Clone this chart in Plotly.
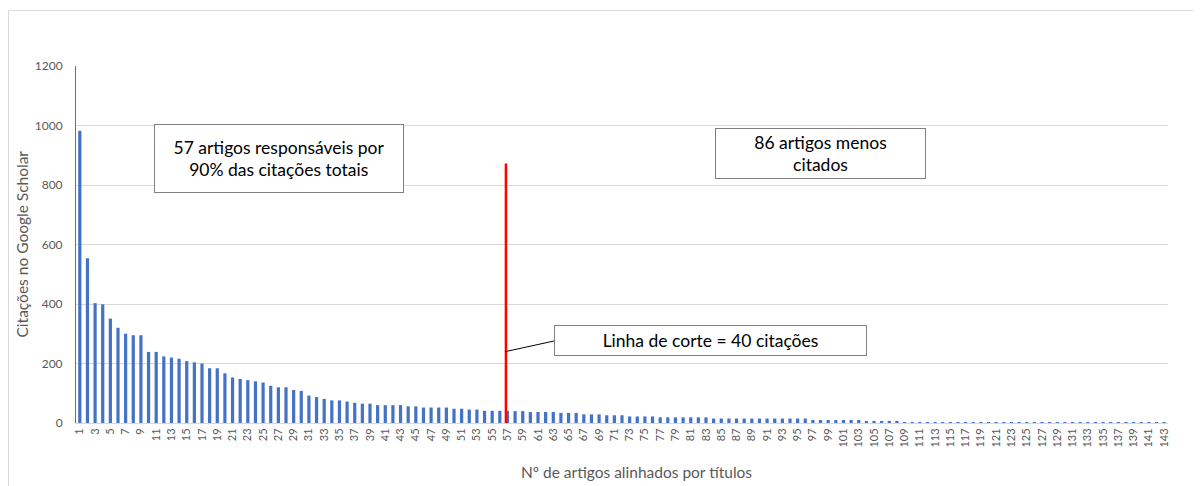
import plotly.graph_objects as go

# ---------------- data ----------------
articles = list(range(1, 144))
citations = [
    982, 554, 403, 399, 351, 320, 300, 295, 295, 239,
    239, 224, 220, 216, 208, 204, 200, 184, 184, 167,
    153, 148, 144, 140, 136, 125, 120, 120, 111, 108,
    92, 87, 81, 76, 76, 72, 68, 65, 65, 60,
    60, 60, 60, 56, 56, 52, 52, 52, 52, 48,
    48, 45, 45, 41, 41, 41, 41, 40, 40, 37,
    37, 37, 37, 34, 34, 34, 29, 29, 29, 26,
    26, 26, 22, 22, 22, 22, 19, 19, 19, 19,
    19, 19, 19, 15, 15, 15, 15, 15, 15, 15,
    15, 15, 15, 15, 15, 15, 10, 10, 10, 10,
    10, 10, 10, 7, 7, 7, 7, 7, 3, 3,
    3, 3, 3, 3, 3, 3, 3, 3, 3, 3,
    3, 3, 3, 3, 3, 3, 3, 3, 3, 3,
    3, 3, 3, 3, 3, 3, 3, 3, 3, 3,
    3, 3, 3,
]
x_tick_vals = list(range(1, 144, 2))
x_tick_text = [str(v) for v in x_tick_vals]
y_tick_vals = [0, 200, 400, 600, 800, 1000, 1200]

cutoff_article = 56.8
cutoff_line_top = 872

title_x = "Nº de artigos alinhados por títulos"
title_y = "Citações no Google Scholar"
box_left_text = "57 artigos responsáveis por<br>90% das citações totais"
box_right_text = "86 artigos menos<br>citados"
box_cut_text = "Linha de corte = 40 citações"

FONT = "Lato, 'Open Sans', sans-serif"
GRAY = "#595959"
BLUE = "#4472C4"

fig = go.Figure()
fig.add_trace(go.Bar(x=articles, y=citations, marker_color=BLUE,
                     marker_line_width=0, width=0.42))

# page has an 8px body margin: figure coordinates = page coordinates - 8
OFF = 8
W, H = 1201 - OFF, 486 - OFF
L, T = 76 - OFF, 66 - OFF
R = W - (1168 - OFF)
B = H - (423 - OFF)
PW, PH = W - L - R, H - T - B


def px(xp):
    return (xp - OFF - L) / PW


def py(yp):
    return (H - B - (yp - OFF)) / PH


fig.update_layout(
    width=W, height=H,
    margin=dict(l=L, r=R, t=T, b=B),
    paper_bgcolor="white", plot_bgcolor="white",
    font=dict(family=FONT, color=GRAY, size=11),
    showlegend=False,
    xaxis=dict(range=[0.5, 143.5], tickmode="array", tickvals=x_tick_vals,
               ticktext=x_tick_text, tickangle=-90, showgrid=False,
               zeroline=False, showline=True, linecolor="#D9D9D9",
               linewidth=1, ticks="", tickfont=dict(size=11, color=GRAY)),
    yaxis=dict(range=[0, 1200], tickmode="array", tickvals=y_tick_vals,
               showgrid=True, gridcolor="#D9D9D9", gridwidth=1,
               zeroline=False, showline=True, linecolor=BLUE, linewidth=1,
               ticks="", ticklabelstandoff=10,
               tickfont=dict(size=12, color=GRAY)),
)

shapes = []
# outer chart border
shapes.append(dict(type="rect", xref="paper", yref="paper",
                   x0=px(8.5), x1=px(1194), y0=py(500), y1=py(10.5),
                   line=dict(color="#D9D9D9", width=1), layer="below"))
# red cutoff line
shapes.append(dict(type="line", xref="x", yref="y",
                   x0=cutoff_article, x1=cutoff_article, y0=0, y1=cutoff_line_top,
                   line=dict(color="#FF0000", width=2.5)))
# connector
shapes.append(dict(type="line", xref="paper", yref="paper",
                   x0=px(505), y0=py(351.7), x1=px(554), y1=py(341),
                   line=dict(color="black", width=1)))
fig.update_layout(shapes=shapes)

ann = []
box_font = dict(family=FONT, size=17.5, color="black")
ann.append(dict(xref="paper", yref="paper", x=px(279), y=py(158.5),
                text=box_left_text, showarrow=False, font=box_font,
                bordercolor="#808080", borderwidth=1, borderpad=0,
                bgcolor="white", width=248, height=67,
                xanchor="center", yanchor="middle", align="center"))
ann.append(dict(xref="paper", yref="paper", x=px(820), y=py(153.7),
                text=box_right_text, showarrow=False, font=box_font,
                bordercolor="#808080", borderwidth=1, borderpad=0,
                bgcolor="white", width=209, height=49,
                xanchor="center", yanchor="middle", align="center"))
ann.append(dict(xref="paper", yref="paper", x=px(710.3), y=py(340.5),
                text=box_cut_text, showarrow=False, font=box_font,
                bordercolor="#808080", borderwidth=1, borderpad=0,
                bgcolor="white", width=311, height=29,
                xanchor="center", yanchor="middle", align="center"))
ann.append(dict(xref="paper", yref="paper", x=px(636), y=py(472),
                text=title_x, showarrow=False,
                font=dict(family=FONT, size=15.5, color=GRAY),
                xanchor="center", yanchor="middle"))
ann.append(dict(xref="paper", yref="paper", x=px(21), y=0.5,
                text=title_y, showarrow=False, textangle=-90,
                font=dict(family=FONT, size=15.5, color=GRAY),
                xanchor="center", yanchor="middle"))
fig.update_layout(annotations=ann)

fig.write_html("out.html")
